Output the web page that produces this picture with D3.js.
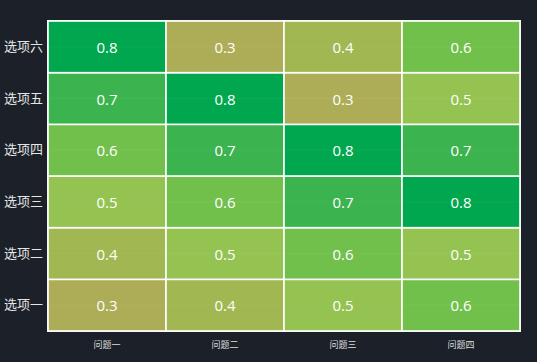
<!DOCTYPE html>
<html><head><meta charset="utf-8">
<script src="https://cdn.jsdelivr.net/npm/d3@7"></script>
<style>
html,body{margin:0;padding:0;background:#1b2029;}
svg{display:block;}
</style></head>
<body>
<svg id="chart" width="537" height="362"></svg>
<script>
const questions = ["问题一", "问题二", "问题三", "问题四"];
const options = ["选项一", "选项二", "选项三", "选项四", "选项五", "选项六"];
const values = [
  [0.3, 0.4, 0.5, 0.6],
  [0.4, 0.5, 0.6, 0.5],
  [0.5, 0.6, 0.7, 0.8],
  [0.6, 0.7, 0.8, 0.7],
  [0.7, 0.8, 0.3, 0.5],
  [0.8, 0.3, 0.4, 0.6]
];
const levels = [0.3, 0.4, 0.5, 0.6, 0.7, 0.8];
const levelColors = ["#adad57", "#a0b752", "#94c351", "#71c04c", "#3bb34e", "#00a74e"];

const svg = d3.select("#chart");
const plotLeft = 48, plotRight = 520, plotTop = 21, plotBottom = 331;

const x = d3.scaleBand().domain(questions).range([plotLeft, plotRight]);
const y = d3.scaleBand().domain(options).range([plotBottom, plotTop]);
const color = d3.scaleOrdinal().domain(levels).range(levelColors);

const cells = [];
options.forEach((o, i) => questions.forEach((q, j) => cells.push({o, q, v: values[i][j]})));

svg.append("rect").attr("x", plotLeft - 1).attr("y", plotTop - 1)
  .attr("width", plotRight - plotLeft + 2).attr("height", plotBottom - plotTop + 2)
  .attr("fill", "#dcdcdc");

const g = svg.append("g");
g.selectAll("rect.cell").data(cells).join("rect")
  .attr("class", "cell")
  .attr("x", d => x(d.q)).attr("y", d => y(d.o))
  .attr("width", x.bandwidth()).attr("height", y.bandwidth())
  .attr("fill", d => color(d.v))
  .attr("stroke", "#ffffff").attr("stroke-width", 1.6);

g.selectAll("line.mid").data(cells).join("line")
  .attr("class", "mid")
  .attr("x1", d => x(d.q) + 1).attr("x2", d => x(d.q) + x.bandwidth() - 1)
  .attr("y1", d => y(d.o) + y.bandwidth() / 2).attr("y2", d => y(d.o) + y.bandwidth() / 2)
  .attr("stroke", "#ffffff").attr("stroke-opacity", 0.05);

g.selectAll("text.val").data(cells).join("text")
  .attr("class", "val")
  .attr("x", d => x(d.q) + x.bandwidth() / 2)
  .attr("y", d => y(d.o) + y.bandwidth() / 2)
  .attr("text-anchor", "middle").attr("dominant-baseline", "central")
  .attr("fill", "#ffffff")
  .attr("font-family", "'Open Sans','Noto Sans',sans-serif").attr("font-size", 15)
  .attr("font-weight", 500)
  .text(d => d.v.toFixed(1));

const yAxis = svg.append("g").attr("transform", `translate(${plotLeft},0)`)
  .call(d3.axisLeft(y).tickSize(0).tickPadding(5));
yAxis.select(".domain").remove();
yAxis.selectAll("text").attr("fill", "#e6e6e6")
  .attr("font-family", "'Noto Sans CJK SC',sans-serif").attr("font-size", 13);

const xAxis = svg.append("g").attr("transform", `translate(0,${plotBottom})`)
  .call(d3.axisBottom(x).tickSize(0).tickPadding(11));
xAxis.select(".domain").remove();
xAxis.selectAll("text").attr("fill", "#dddddd")
  .attr("font-family", "'Noto Sans CJK SC',sans-serif").attr("font-size", 9);
</script>
</body></html>
